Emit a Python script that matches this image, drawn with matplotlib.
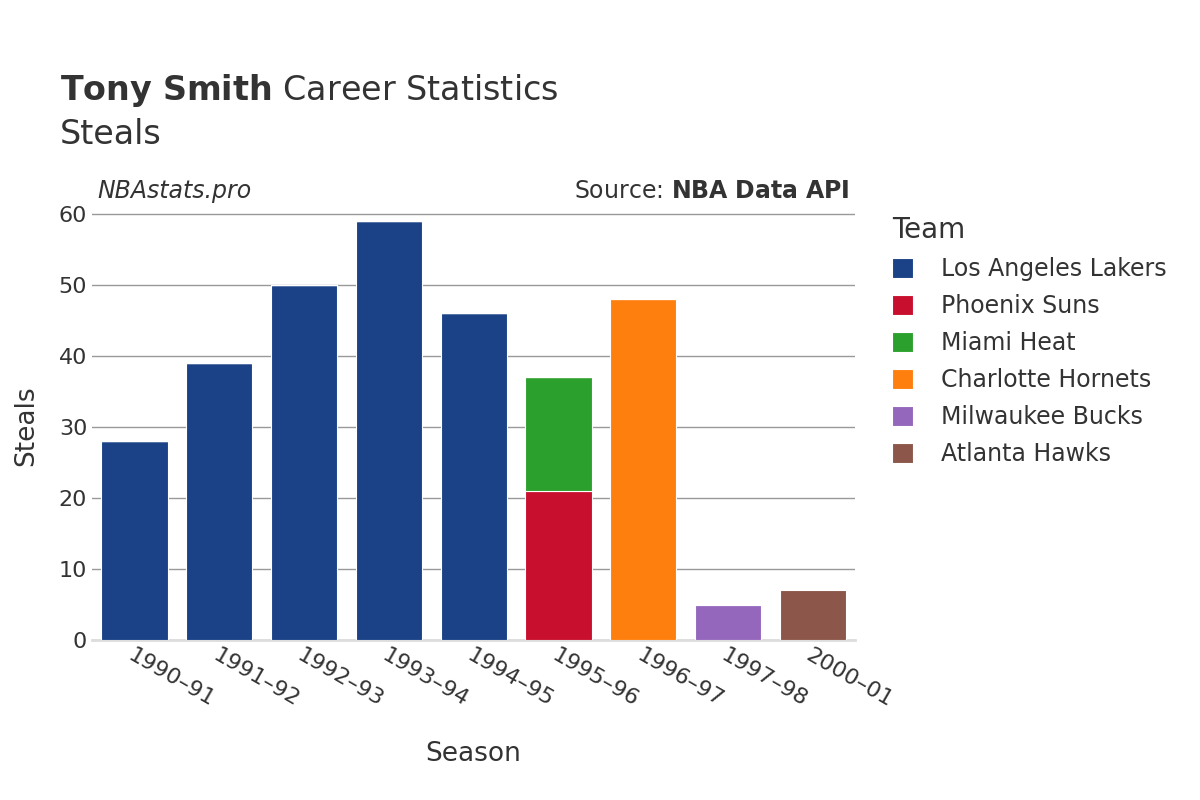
import matplotlib
matplotlib.use("Agg")
import matplotlib.pyplot as plt

seasons = ["1990–91","1991–92","1992–93","1993–94","1994–95","1995–96","1996–97","1997–98","2000–01"]
teams = ["Los Angeles Lakers","Phoenix Suns","Miami Heat","Charlotte Hornets","Milwaukee Bucks","Atlanta Hawks"]
colors = ["#1b4287","#c8102e","#2ca02c","#ff7f0e","#9467bd","#8c564b"]
values = {
    "Los Angeles Lakers": [28,39,50,59,46,0,0,0,0],
    "Phoenix Suns":       [0,0,0,0,0,21,0,0,0],
    "Miami Heat":         [0,0,0,0,0,16,0,0,0],
    "Charlotte Hornets":  [0,0,0,0,0,0,48,0,0],
    "Milwaukee Bucks":    [0,0,0,0,0,0,0,5,0],
    "Atlanta Hawks":      [0,0,0,0,0,0,0,0,7],
}

fig = plt.figure(figsize=(12,8), dpi=100)
ax = fig.add_axes([0.0767, 0.2, 0.636, 0.535])
x = list(range(len(seasons)))
bottom = [0]*len(seasons)
for t, c in zip(teams, colors):
    v = values[t]
    ax.bar(x, v, bottom=bottom, width=0.78, color=c, label=t, edgecolor="white", linewidth=0.8, zorder=3)
    bottom = [b+vv for b, vv in zip(bottom, v)]

ax.set_xlim(-0.5, len(seasons)-0.5)
ax.set_ylim(0, 60.3)
ax.set_yticks(range(0, 61, 10))
ax.grid(axis="y", color="#999999", linewidth=1, zorder=0)
for s in ["top","right","left"]:
    ax.spines[s].set_visible(False)
ax.spines["bottom"].set_color("#dddddd")
ax.spines["bottom"].set_linewidth(2)
ax.tick_params(axis="both", length=0, labelsize=16, colors="#333333")
ax.set_xticks(x)
ax.set_xticklabels(seasons, rotation=-30, ha="left", rotation_mode="anchor")
ax.set_xlabel("Season", fontsize=19, color="#333333", labelpad=22)
ax.set_ylabel("Steals", fontsize=19, color="#333333", labelpad=14)

fig.text(0.05, 0.875, r"$\bf{Tony\ Smith}$ Career Statistics", fontsize=24, color="#333333")
fig.text(0.05, 0.82, "Steals", fontsize=24, color="#333333")
fig.text(0.081, 0.752, "NBAstats.pro", fontsize=17, style="italic", color="#333333")
fig.text(0.708, 0.752, r"Source: $\bf{NBA\ Data\ API}$", fontsize=17, color="#333333", ha="right")

leg = ax.legend(loc="upper left", bbox_to_anchor=(1.02, 1.04), frameon=False, fontsize=17,
                title="Team", title_fontsize=20, handlelength=0.9, handleheight=0.9,
                labelspacing=0.55, handletextpad=1.2, labelcolor="#333333")
leg.get_title().set_color("#333333")
leg._legend_box.align = "left"
fig.savefig("out.png", dpi=100)
